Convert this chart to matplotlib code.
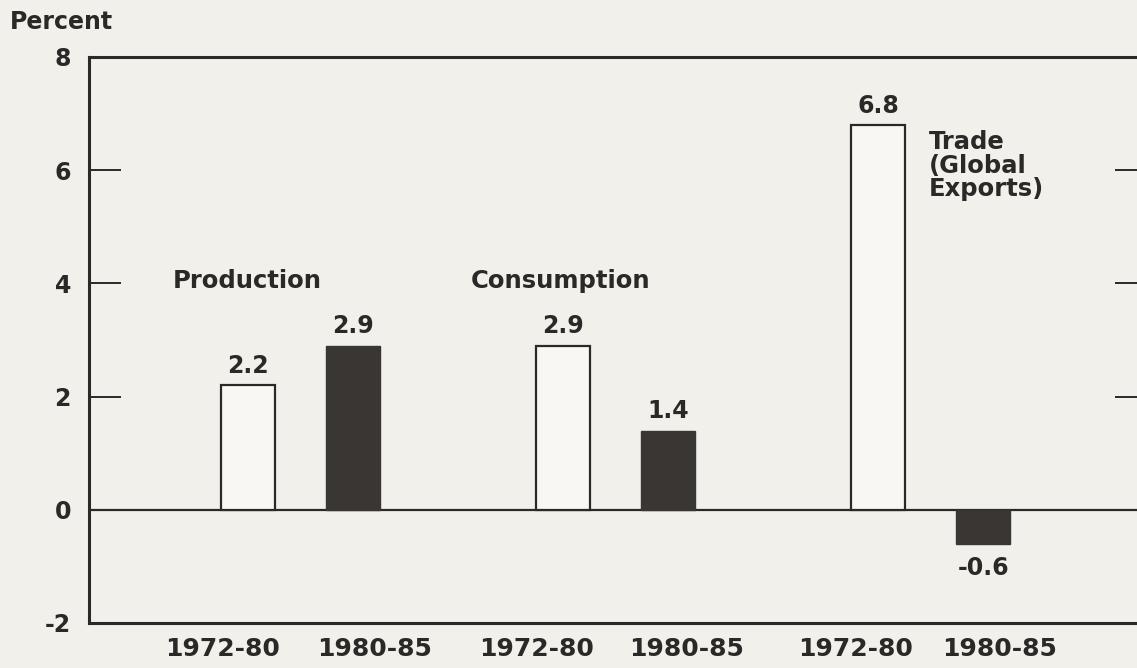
import matplotlib.pyplot as plt
import numpy as np

# growth rates, percent per year
categories = ['Production', 'Consumption', 'Trade\n(Global\nExports)']
periods = ['1972-80', '1980-85']
early = [2.2, 2.9, 6.8]    # 1972-80
late = [2.9, 1.4, -0.6]    # 1980-85
yticks = [-2, 0, 2, 4, 6, 8]

bg = '#f2f0eb'
dark = '#3a3634'
ink = '#2b2828'

plt.rcParams['font.family'] = ['DejaVu Sans']
plt.rcParams['font.weight'] = 'bold'

fig = plt.figure(figsize=(11.37, 6.68), dpi=100, facecolor=bg)
ax = fig.add_axes([89/1137, 45/668, 1058/1137, 566/668], facecolor=bg)

group = np.arange(len(categories)) * 3.0
x_early = group
x_late = group + 1
w = 0.52

ax.bar(x_early, early, w, color='#f8f7f3', edgecolor=ink, linewidth=1.6, zorder=3)
ax.bar(x_late, late, w, color=dark, edgecolor=dark, linewidth=1.0, zorder=3)
ax.axhline(0, color=ink, lw=1.6, zorder=2)

# value labels
for x, v in zip(np.concatenate([x_early, x_late]), early + late):
    if v >= 0:
        ax.text(x, v + 0.13, f'{v:.1f}', ha='center', va='bottom', fontsize=17, color=ink)
    else:
        ax.text(x, v - 0.22, f'{v:.1f}', ha='center', va='top', fontsize=17, color=ink)

# category names
ax.text(-0.72, 4.05, categories[0], ha='left', va='center', fontsize=17.5, color=ink)
ax.text(2.12, 4.05, categories[1], ha='left', va='center', fontsize=17.5, color=ink)
ax.text(6.48, 6.08, categories[2], ha='left', va='center', fontsize=17.5, color=ink,
        linespacing=0.98)

ax.set_xlim(-1.515, 8.56)
ax.set_ylim(-2, 8)
ax.set_yticks(yticks)
ax.set_yticklabels([str(t) for t in yticks], fontsize=17, color=ink)

# period labels sit a little wider than the bars
shift = [-0.24, 0.2, -0.25, 0.18, -0.22, 0.16]
xs = np.ravel(np.column_stack([x_early, x_late]))
ax.set_xticks(xs + np.array(shift))
ax.set_xticklabels(periods * len(categories), fontsize=18, color=ink)
ax.tick_params(axis='x', length=0, pad=10)
ax.tick_params(axis='y', direction='in', length=23, width=1.4, color=ink,
               right=True, pad=13)

for s in ax.spines.values():
    s.set_linewidth(2.2)
    s.set_color(ink)

fig.text(0.009, 0.985, 'Percent', ha='left', va='top', fontsize=17, color=ink)

fig.savefig('out.png', dpi=100, facecolor=bg)
